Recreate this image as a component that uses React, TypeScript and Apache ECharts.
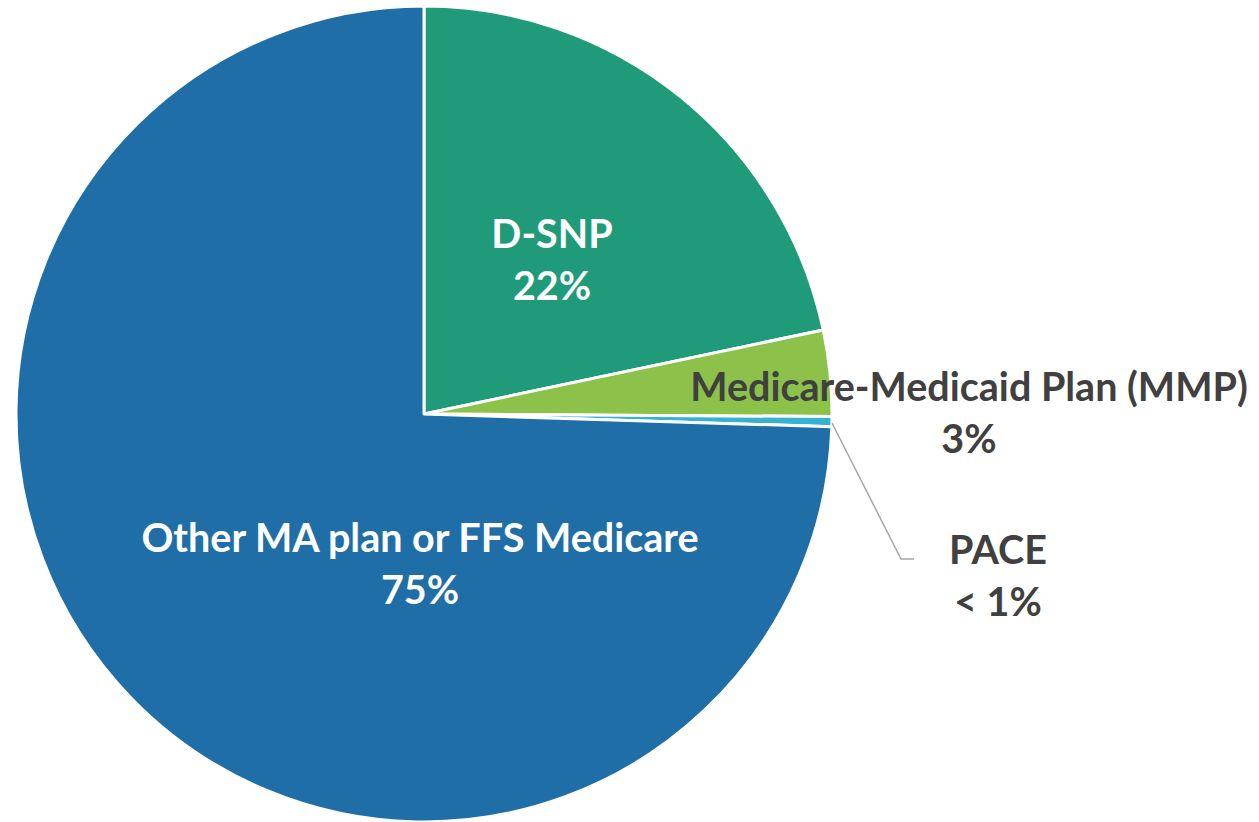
import React, { useEffect, useRef } from "react";
import * as echarts from "echarts";

// Share of enrollees by plan type (percent)
const categories = ["D-SNP", "Medicare-Medicaid Plan (MMP)", "PACE", "Other MA plan or FFS Medicare"];
const values = [21.7, 3.4, 0.4, 74.5];
const valueLabels = ["22%", "3%", "< 1%", "75%"];
const sliceColors = ["#209b7a", "#8cc24a", "#36b1d4", "#1f6ea8"];

const CX = 424;
const CY = 414;
const R = 408;
const LINE_H = 52;
const FONT = "Lato, 'Open Sans', sans-serif";

export default function App() {
  const ref = useRef<HTMLDivElement>(null);

  useEffect(() => {
    document.body.style.margin = "0";
    const chart = echarts.init(ref.current!, null, { renderer: "svg" });

    const labelText = (i: number, x: number, y: number, fill: string) => ({
      type: "text",
      x,
      y,
      style: {
        text: categories[i] + "\n" + valueLabels[i],
        fill,
        font: `bold 39.5px ${FONT}`,
        lineHeight: LINE_H,
        align: "center",
        verticalAlign: "middle",
      },
      z: 10,
    });

    chart.setOption({
      animation: false,
      backgroundColor: "#ffffff",
      series: [
        {
          type: "pie",
          center: [CX, CY],
          radius: R,
          startAngle: 90,
          clockwise: true,
          label: { show: false },
          labelLine: { show: false },
          emphasis: { disabled: true },
          itemStyle: { borderColor: "#ffffff", borderWidth: 3 },
          data: categories.map((name, i) => ({
            name,
            value: values[i],
            itemStyle: { color: sliceColors[i] },
          })),
        },
      ],
      graphic: [
        labelText(0, 552, 258, "#ffffff"),
        labelText(3, 420, 562, "#ffffff"),
        labelText(1, 969, 411, "#404040"),
        labelText(2, 998, 574, "#404040"),
        {
          type: "polyline",
          shape: { points: [[832, 423], [901, 559], [914, 559]] },
          style: { stroke: "#a6a6a6", lineWidth: 1.5, fill: null },
          z: 9,
        },
      ],
    });

    return () => chart.dispose();
  }, []);

  return (
    <div
      ref={ref}
      style={{ position: "absolute", left: 0, top: 0, width: 1259, height: 822 }}
    />
  );
}
